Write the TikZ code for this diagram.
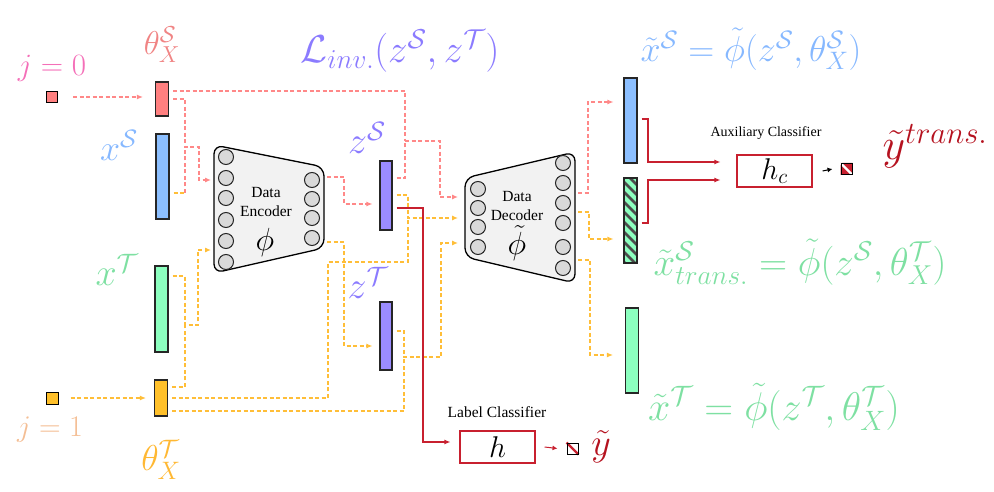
\RequirePackage{fix-cm}
\documentclass[tikz,border=0pt]{standalone}
\usepackage{fontspec}
\newfontfamily\tnr{Liberation Serif}
\usetikzlibrary{arrows.meta}
\definecolor{cpink}{HTML}{FF8080}
\definecolor{dpink}{HTML}{FF8888}
\definecolor{jpink}{HTML}{F46FB8}
\definecolor{lpink}{HTML}{F08484}
\definecolor{cblue}{HTML}{8CBFFF}
\definecolor{lblue}{HTML}{86B8FF}
\definecolor{cgreen}{HTML}{8CFFBF}
\definecolor{lgreen}{HTML}{7EE0A2}
\definecolor{corange}{HTML}{FFC02A}
\definecolor{dorange}{HTML}{FFBE38}
\definecolor{lorange}{HTML}{FFB833}
\definecolor{jpeach}{HTML}{F4BE94}
\definecolor{cpurple}{HTML}{9B8CFF}
\definecolor{lpurple}{HTML}{8B7BFF}
\definecolor{cred}{HTML}{C8202F}
\definecolor{dred}{HTML}{B5121F}
\newcommand{\fs}[1]{\fontsize{#1}{#1}\selectfont}
\newcommand{\lblfont}{\fs{30}}
\newcommand{\netfont}{\fontsize{15.5}{18.5}\selectfont\tnr}
\begin{document}
\begin{tikzpicture}[x=1pt,y=-1pt,
  vecbox/.style={draw=black!85, line width=1.1pt, inner sep=0pt, minimum width=13pt},
  circ/.style={circle, draw=black!85, fill=gray!30, line width=1pt, minimum size=15pt, inner sep=0pt},
  net/.style={draw=black, fill=gray!10, line width=1.3pt, rounded corners=9pt},
  pk/.style={draw=dpink, dash pattern=on 4pt off 2.5pt, line width=1.1pt},
  og/.style={draw=dorange, dash pattern=on 4pt off 2.5pt, line width=1.1pt},
  rd/.style={draw=cred, line width=1.1pt},
  arr/.style={-{Latex[length=6pt,width=5pt]}},
  clsbox/.style={draw=cred, line width=1.1pt, minimum width=75pt, minimum height=32pt, inner sep=0pt},
  outsq/.style={draw=black, line width=1pt, minimum size=11pt, inner sep=0pt},
  lbl/.style={inner sep=0pt}
]
\useasboundingbox (0,0) rectangle (994,492);

% ---- input vectors ----
\node[outsq, fill=cpink] (j0) at (52,97) {};
\node[outsq, fill=corange, minimum size=12pt] (j1) at (52,398) {};
\node[vecbox, fill=cpink, minimum height=34pt] (thS) at (162,99) {};
\node[vecbox, fill=cblue, minimum height=85pt] (xS) at (162.5,176.5) {};
\node[vecbox, fill=cgreen, minimum height=86pt] (xT) at (161.5,309) {};
\node[vecbox, fill=corange, minimum height=36pt] (thT) at (161,398) {};

% ---- latent vectors ----
\node[vecbox, fill=cpurple, minimum width=12pt, minimum height=69pt] (zS) at (386,195.5) {};
\node[vecbox, fill=cpurple, minimum width=12pt, minimum height=68pt] (zT) at (386,336) {};

% ---- output vectors ----
\node[vecbox, fill=cblue, minimum height=85pt] (oS) at (630.5,120.5) {};
\node[vecbox, fill=cgreen, minimum height=85pt] (oH) at (630.5,220.5) {};
\begin{scope}
  \clip (oH.south west) rectangle (oH.north east);
  \foreach \k in {160,170,...,270} \draw[gray!60!black, line width=2.6pt] (622,\k) -- ++(18,18);
\end{scope}
\node[vecbox, minimum height=85pt] at (630.5,220.5) {};
\node[vecbox, fill=cgreen, minimum height=85pt] (oT) at (632,350.5) {};

% ---- encoder ----
\draw[net] (214,145) -- (324,167) -- (324,248) -- (214,273) -- cycle;
\foreach \yy in {157,178,198,220,241,262} \node[circ] at (226,\yy) {};
\foreach \yy in {180,199,218,238} \node[circ] at (312,\yy) {};
\node[lbl, align=center, font=\netfont] (enc) at (266,202) {Data\\Encoder};
\node[lbl, font=\fs{32}] (phi) at (265,243) {$\phi$};

% ---- decoder ----
\draw[net] (465,178) -- (575,152) -- (575,283) -- (465,257) -- cycle;
\foreach \yy in {189,208,227,247} \node[circ] at (478,\yy) {};
\foreach \yy in {163,183,203,223,247,268} \node[circ] at (563,\yy) {};
\node[lbl, align=center, font=\netfont] (dec) at (517,206) {Data\\Decoder};
\node[lbl, font=\fs{32}] (phit) at (517,243) {$\tilde{\phi}$};

% ---- classifiers ----
\node[clsbox] (hc) at (774.5,171) {\lblfont $h_c$};
\node[lbl, font=\fontsize{14}{16}\selectfont\tnr] (auxt) at (766,133) {Auxiliary Classifier};
\node[clsbox] (hh) at (497.5,447) {\lblfont $h$};
\node[lbl, font=\fontsize{15.5}{18}\selectfont\tnr] (labt) at (497,412) {Label Classifier};
\node[outsq, fill=white] (sq1) at (846.5,169) {};
\fill[cred] (sq1.north west) -- (sq1.north east) -- (sq1.south east) -- cycle;
\fill[cred] (sq1.north west) -- (sq1.south west) -- (sq1.south east) -- cycle;
\draw[white, line width=2.2pt] (sq1.north west) -- (sq1.south east);
\node[outsq] at (846.5,169) {};
\node[outsq, fill=white] (sq2) at (572.5,448.5) {};
\draw[cred, line width=2.4pt] (sq2.north west) -- (sq2.south east);
\node[outsq] at (572.5,448.5) {};

% ---- labels ----
\node[lbl, text=jpink, font=\fs{31}] (lj0) at (52,68) {$j=0$};
\node[lbl, text=jpeach, font=\fs{30}] (lj1) at (50,430) {$j=1$};
\node[lbl, text=lpink, font=\fs{33}] (lthS) at (162,45) {$\theta_X^{\mathcal{S}}$};
\node[lbl, text=lorange, font=\fs{36}] (lthT) at (161,460) {$\theta_X^{\mathcal{T}}$};
\node[lbl, text=lblue, font=\fs{36}] (lxS) at (119,145) {$x^{\mathcal{S}}$};
\node[lbl, text=lgreen, font=\fs{38}] (lxT) at (117,270) {$x^{\mathcal{T}}$};
\node[lbl, text=lpurple, font=\fs{38}] (lzS) at (367,138) {$z^{\mathcal{S}}$};
\node[lbl, text=lpurple, font=\fs{38}] (lzT) at (368,283) {$z^{\mathcal{T}}$};
\node[lbl, text=lpurple, font=\fs{39}] (linv) at (400,51) {$\mathcal{L}_{inv.}(z^{\mathcal{S}},z^{\mathcal{T}})$};
\node[lbl, text=lblue, font=\fs{36}] (loS) at (751,49) {$\tilde{x}^{\mathcal{S}}=\tilde{\phi}(z^{\mathcal{S}},\theta_X^{\mathcal{S}})$};
\node[lbl, text=lgreen, font=\fs{39}] (loH) at (800,262) {$\tilde{x}^{\mathcal{S}}_{trans.}=\tilde{\phi}(z^{\mathcal{S}},\theta_X^{\mathcal{T}})$};
\node[lbl, text=lgreen, font=\fs{40}] (loT) at (774,407) {$\tilde{x}^{\mathcal{T}}=\tilde{\phi}(z^{\mathcal{T}},\theta_X^{\mathcal{T}})$};
\node[lbl, text=dred, font=\fs{44}] (lyt) at (935,146) {$\tilde{y}^{trans.}$};
\node[lbl, text=dred, font=\fs{38}] (ly) at (601,447) {$\tilde{y}$};

% ---- pink dashed connectors ----
\draw[pk, arr] ([xshift=15pt]j0.east) -- ([xshift=-12pt]thS.west |- j0.east);
\draw[pk] ([xshift=4pt]thS.east |- 0,91) -- (405,91) -- (405,141);
\draw[pk, arr] ([xshift=4pt]zS.east |- 0,178) -- (405,178) -- (405,141) -- (440,141) -- (440,197) -- (458,197);
\draw[pk, arr] ([xshift=4pt]thS.east |- 0,99) -- (185,99) -- (185,147) -- (199,147) -- (199,180) -- (211,180);
\draw[og] ([xshift=4pt]xS.east |- 0,193) -- (185,193);
\draw[pk] (185,193) -- (185,147);
\draw[pk, arr] (327,177) -- (344,177) -- (344,204) -- ([xshift=-7pt]zS.west |- 0,204);
\draw[pk, arr] (578,193) -- (588,193) -- (588,102) -- ([xshift=-10pt]oS.west |- 0,102);

% ---- orange dashed connectors ----
\draw[og, arr] ([xshift=12pt]j1.east) -- ([xshift=-8pt]thT.west |- j1.east);
\draw[og, arr] ([xshift=4pt]xT.east |- 0,276) -- (185,276) -- (185,325) -- (198,325) -- (198,250) -- (211,250);
\draw[og] ([xshift=4pt]thT.east |- 0,387) -- (185,387) -- (185,325);
\draw[og] ([xshift=4pt]thT.east |- 0,398) -- (328,398) -- (328,262) -- (408,262) -- (408,218);
\draw[og, arr] ([xshift=4pt]zS.east |- 0,195) -- (408,195) -- (408,218) -- (458,218);
\draw[og, arr] (327,242) -- (344,242) -- (344,346) -- ([xshift=-7pt]zT.west |- 0,346);
\draw[og, arr] ([xshift=4pt]zT.east |- 0,331) -- (404,331) -- (404,357) -- (441,357) -- (441,243) -- (458,243);
\draw[og] ([xshift=4pt]thT.east |- 0,411) -- (404,411) -- (404,357);
\draw[og, arr] (578,212) -- (589,212) -- (589,239) -- ([xshift=-10pt]oH.west |- 0,239);
\draw[og, arr] (578,260) -- (590,260) -- (590,355) -- ([xshift=-12pt]oT.west |- 0,355);

% ---- red classifier connectors ----
\draw[rd, arr] ([xshift=4pt]zS.east |- 0,208) -- (423,208) -- (423,442) -- ([xshift=-9pt]hh.west |- 0,442);
\draw[rd, arr] ([xshift=4pt]oS.east |- 0,119) -- (648,119) -- (648,162) -- ([xshift=-16pt]hc.west |- 0,162);
\draw[rd, arr] ([xshift=4pt]oH.east |- 0,223) -- (648,223) -- (648,180) -- ([xshift=-16pt]hc.west |- 0,180);
\draw[black, line width=1pt, -{Latex[length=5pt,width=5pt]}] ([xshift=10pt]hc.east) -- ([xshift=-8pt]sq1.west);
\draw[cred, line width=1pt, -{Latex[length=5pt,width=5pt]}] ([xshift=9pt]hh.east) -- ([xshift=-9pt]sq2.west);
\end{tikzpicture}
\end{document}
